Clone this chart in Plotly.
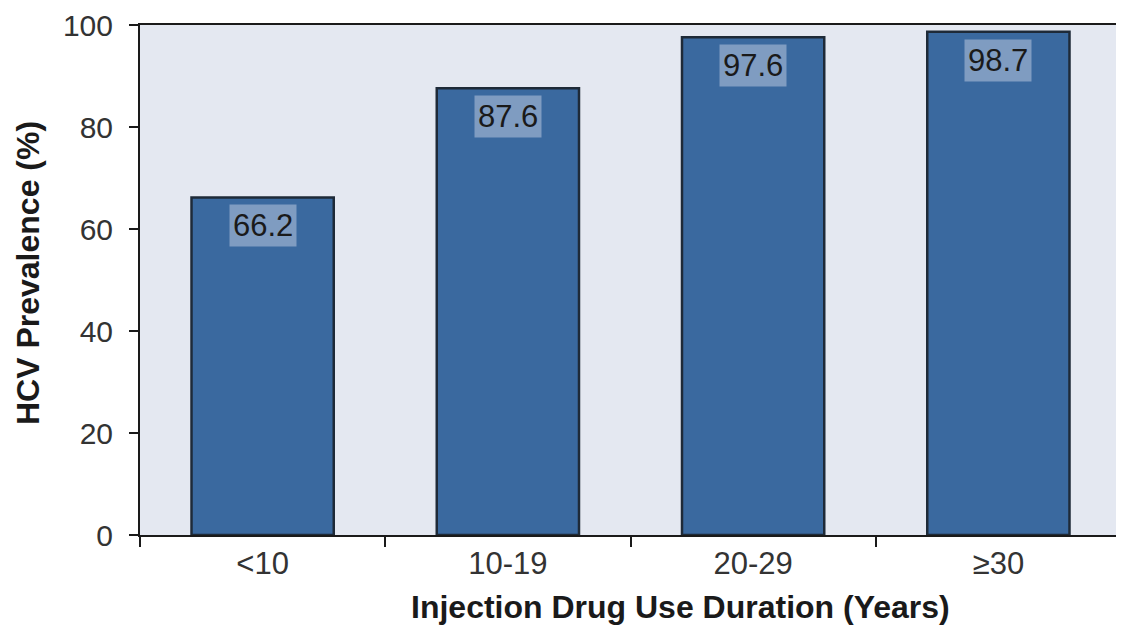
import plotly.graph_objects as go

categories = ["<10", "10-19", "20-29", "≥30"]
values = [66.2, 87.6, 97.6, 98.7]
y_ticks = [0, 20, 40, 60, 80, 100]

FONT = "Arial, Liberation Sans"

fig = go.Figure()
fig.add_trace(go.Bar(
    x=categories, y=values, width=0.58,
    marker=dict(color="#3a699f", line=dict(color="#1e2a38", width=2.5)),
    hoverinfo="skip",
))

for c, v in zip(categories, values):
    fig.add_annotation(
        x=c, y=v, text=f"{v:.1f}", showarrow=False,
        yanchor="top", yshift=-7,
        font=dict(family=FONT, size=31, color="#1a1a1a"),
        bgcolor="#7f9cc1", borderpad=3,
    )

# axis titles as annotations (positioned like the reference)
fig.add_annotation(
    text="<b>Injection Drug Use Duration (Years)</b>", showarrow=False,
    xref="paper", yref="paper", x=0.551, y=-0.141,
    xanchor="center", yanchor="middle",
    font=dict(family=FONT, size=32, color="#1a1a1a"),
)
fig.add_annotation(
    text="<b>HCV Prevalence (%)</b>", showarrow=False, textangle=-90,
    xref="paper", yref="paper", x=-0.114, y=0.514,
    xanchor="center", yanchor="middle",
    font=dict(family=FONT, size=32, color="#1a1a1a"),
)

fig.update_layout(
    width=1124, height=625,
    margin=dict(l=132, r=11, t=17, b=98, autoexpand=False),
    paper_bgcolor="white", plot_bgcolor="#e4e8f1",
    showlegend=False,
    font=dict(family=FONT, color="#222"),
)
fig.update_xaxes(
    showline=True, linecolor="#1a1a1a", linewidth=2, mirror=True,
    ticks="outside", tickson="boundaries", ticklen=10, tickcolor="#1a1a1a", tickwidth=2,
    tickfont=dict(size=31, color="#333"),
    showgrid=False,
)
fig.update_yaxes(
    range=[0, 100], tickvals=y_ticks,
    showline=True, linecolor="#1a1a1a", linewidth=2,
    ticks="outside", ticklen=9, tickcolor="#1a1a1a", tickwidth=2,
    tickfont=dict(size=30, color="#333"),
    ticklabelstandoff=10, ticklabeloverflow="allow",
    showgrid=False, zeroline=False,
)

fig.write_html("out.html")
